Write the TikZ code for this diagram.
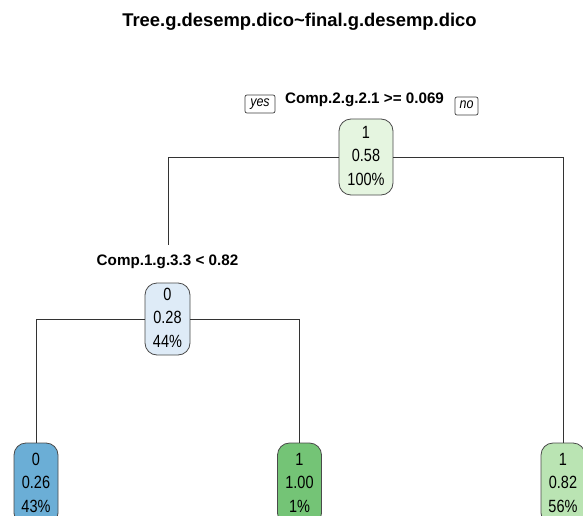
\documentclass[tikz,border=0pt]{standalone}
\usepackage{fontspec}
\setmainfont{Liberation Sans}
\usepackage{graphicx}
\definecolor{rootc}{HTML}{E5F5E0}
\definecolor{ntwoc}{HTML}{DEEBF7}
\definecolor{leafbluec}{HTML}{6BAED6}
\definecolor{leafgreenc}{HTML}{74C476}
\definecolor{leaflightc}{HTML}{BAE4B3}
\definecolor{edgec}{HTML}{4A4A4A}
\newcommand{\nodetext}[3]{\scalebox{1}[1.22]{\fontsize{14.5}{19.3}\selectfont\begin{tabular}{@{}c@{}}#1\\#2\\#3\end{tabular}}}
\newcommand{\ynlabel}[1]{\scalebox{1}[1.15]{#1}}
\tikzset{
  tbox/.style={draw=edgec, line width=0.8pt, rounded corners=12pt, inner sep=0pt, text=black},
  branch/.style={draw=black!80, line width=0.8pt},
  splitlab/.style={font=\fontsize{15.2}{18}\selectfont\bfseries, anchor=base, inner sep=0pt},
  yesno/.style={draw=black!75, line width=0.7pt, rounded corners=2pt, font=\fontsize{12.5}{14}\selectfont\itshape, minimum height=18pt, inner sep=0pt, text height=0.72em, text depth=0.2em}
}
\begin{document}
\begin{tikzpicture}[x=1pt, y=-1pt]
\useasboundingbox (0,0) rectangle (583,516);
\clip (0,0) rectangle (583,516);
\fill[white] (0,0) rectangle (583,516);
% title
\node[font=\fontsize{18.4}{22}\selectfont\bfseries, anchor=base, inner sep=0pt] (title) at (299.5,27) {Tree.g.desemp.dico\textasciitilde final.g.desemp.dico};
% split labels
\node[splitlab] (s1) at (364.5,104) {Comp.2.g.2.1 >= 0.069};
\node[yesno, minimum width=30pt] (yes) at (260,104) {\ynlabel{yes}};
\node[yesno, minimum width=23pt] (no) at (466.5,106) {\ynlabel{no}};
\node[splitlab] (s2) at (167.5,265) {Comp.1.g.3.3 < 0.82};
\coordinate (c2) at (168,245);
% nodes
\node[tbox, fill=rootc, minimum width=54pt, minimum height=76pt] (root) at (366,157) {\nodetext{1}{0.58}{100\%}};
\node[tbox, fill=ntwoc, minimum width=45pt, minimum height=72pt] (n2) at (167.5,319) {\nodetext{0}{0.28}{44\%}};
\node[tbox, fill=leafbluec, minimum width=44pt, minimum height=82pt] (leaf1) at (36,484) {\nodetext{0}{0.26}{43\%}};
\node[tbox, fill=leafgreenc, minimum width=44pt, minimum height=82pt] (leaf2) at (299.5,484) {\nodetext{1}{1.00}{1\%}};
\node[tbox, fill=leaflightc, minimum width=44pt, minimum height=82pt] (leaf3) at (563,484) {\nodetext{1}{0.82}{56\%}};
% branches
\draw[branch] (root.west) -| (c2);
\draw[branch] (root.east) -| (leaf3.north);
\draw[branch] (n2.west) -| (leaf1.north);
\draw[branch] (n2.east) -| (leaf2.north);
\end{tikzpicture}
\end{document}
